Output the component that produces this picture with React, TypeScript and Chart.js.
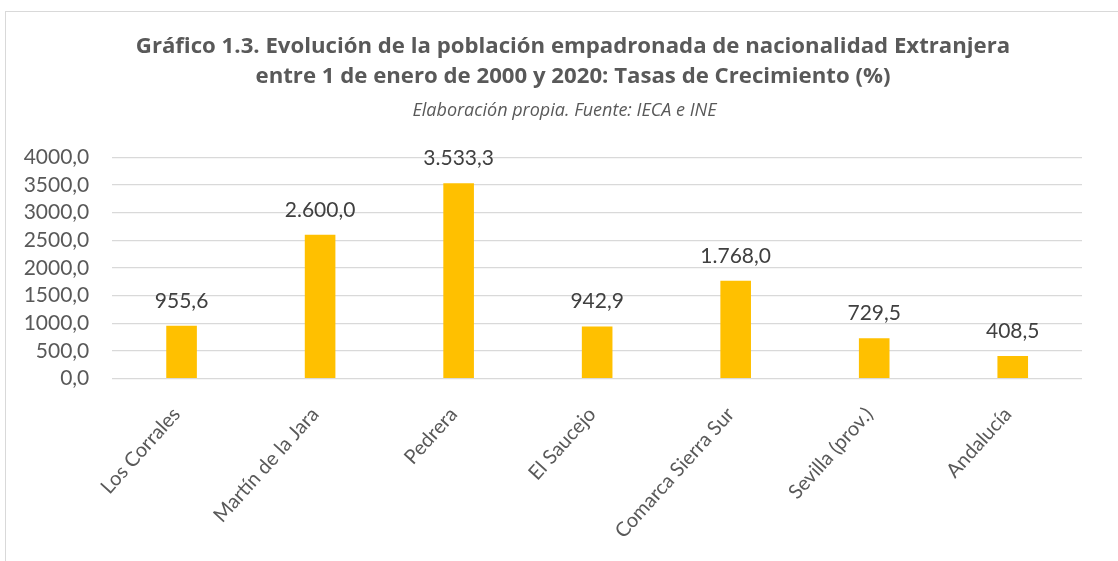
import React, { useEffect, useRef } from "react";
import { Chart, registerables } from "chart.js";

Chart.register(...registerables);

const categories: string[] = [
  "Los Corrales",
  "Martín de la Jara",
  "Pedrera",
  "El Saucejo",
  "Comarca Sierra Sur",
  "Sevilla (prov.)",
  "Andalucía",
];
const growthRates: number[] = [955.6, 2600.0, 3533.3, 942.9, 1768.0, 729.5, 408.5];
const titleLines: string[] = [
  "Gráfico 1.3. Evolución de la población empadronada de nacionalidad Extranjera",
  "entre 1 de enero de 2000 y 2020: Tasas de Crecimiento (%)",
];
const subtitleText = "Elaboración propia. Fuente: IECA e INE";
const yMin = 0;
const yMax = 4000;
const yStep = 500;

const FONT = "Lato, 'Open Sans', sans-serif";
const TITLE_FONT = "'Open Sans', Lato, sans-serif";

function fmtEs(v: number): string {
  const [i, d] = v.toFixed(1).split(".");
  const withSep = i.replace(/\B(?=(\d{3})+(?!\d))/g, ".");
  return `${withSep},${d}`;
}

const dataLabelPlugin = {
  id: "dataLabels",
  afterDatasetsDraw(chart: any) {
    const ctx = chart.ctx;
    const meta = chart.getDatasetMeta(0);
    ctx.save();
    ctx.font = `21px ${FONT}`;
    ctx.fillStyle = "#404040";
    ctx.textAlign = "center";
    ctx.textBaseline = "middle";
    meta.data.forEach((bar: any, i: number) => {
      ctx.fillText(fmtEs(growthRates[i]), bar.x, bar.y - 25);
    });
    ctx.restore();
  },
};

// Centre the title block over the whole chart frame (the frame starts left of the axis labels)
const titleBoxPlugin = {
  id: "titleBox",
  afterLayout(chart: any) {
    chart.boxes.forEach((b: any) => {
      if (b.position === "top" && b.fullSize && b.options && b.options.text !== undefined) {
        const isSub = b.options.text === subtitleText;
        b.left = isSub ? 47 : 64;
        b.right = chart.chartArea.right;
      }
    });
  },
};

export default function App() {
  const ref = useRef<HTMLCanvasElement | null>(null);

  useEffect(() => {
    if (!ref.current) return;
    const chart = new Chart(ref.current, {
      type: "bar",
      data: {
        labels: categories,
        datasets: [
          {
            data: growthRates,
            backgroundColor: "#FFC000",
            borderWidth: 0,
            barPercentage: 0.221,
            categoryPercentage: 1,
          },
        ],
      },
      plugins: [dataLabelPlugin, titleBoxPlugin],
      options: {
        animation: false,
        responsive: false,
        layout: { padding: { left: 20, right: 36, top: 0, bottom: 0 } },
        plugins: {
          legend: { display: false },
          tooltip: { enabled: false },
          title: {
            display: true,
            text: titleLines,
            color: "#595959",
            font: { family: TITLE_FONT, size: 22.2, weight: "bold", lineHeight: "30px" },
            padding: { top: 31.6, bottom: 0 },
          },
          subtitle: {
            display: true,
            text: subtitleText,
            color: "#595959",
            font: { family: TITLE_FONT, size: 18, style: "italic", lineHeight: "20px" },
            padding: { top: 8.9, bottom: 36.8 },
          },
        },
        scales: {
          x: {
            grid: { display: false },
            border: { display: false },
            ticks: {
              color: "#595959",
              font: { family: FONT, size: 20 },
              minRotation: 48,
              maxRotation: 48,
              autoSkip: false,
              padding: 16,
              labelOffset: -5,
            },
            afterFit: (scale: any) => {
              scale.height = 182.3;
            },
          },
          y: {
            min: yMin,
            max: yMax,
            grid: { color: "#d9d9d9", lineWidth: 1.3, drawTicks: false },
            border: { display: false },
            ticks: {
              stepSize: yStep,
              autoSkip: false,
              maxTicksLimit: 20,
              color: "#595959",
              font: { family: FONT, size: 21, lineHeight: 1 },
              padding: 23,
              callback: (v: any) => Number(v).toFixed(1).replace(".", ","),
            },
            afterFit: (scale: any) => {
              scale.width = 92.3;
            },
          },
        },
      },
    });
    return () => chart.destroy();
  }, []);

  return (
    <div style={{ position: "fixed", left: 0, top: 0, width: 1118, height: 561, overflow: "hidden", background: "#fff" }}>
      <div
        style={{
          position: "absolute",
          left: 5,
          top: 11,
          width: 2000,
          height: 2000,
          borderLeft: "1.6px solid #d9d9d9",
          borderTop: "1.5px solid #d9d9d9",
        }}
      />
      <canvas
        ref={ref}
        width={1118}
        height={561}
        style={{ position: "absolute", left: 0, top: 0, width: 1118, height: 561 }}
      />
    </div>
  );
}
